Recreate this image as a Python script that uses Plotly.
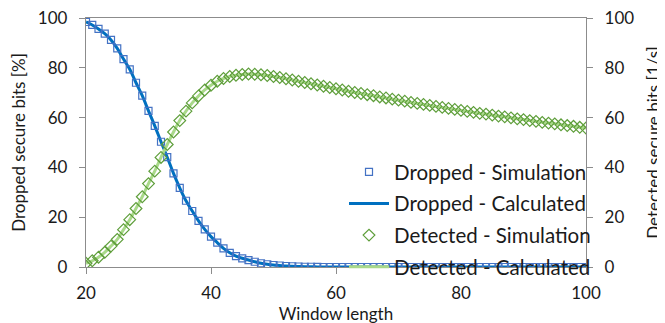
import plotly.graph_objects as go

window_length = list(range(20, 101))

dropped_pct = [
    98.4, 97.2, 95.6, 93.7, 91.2, 87.8, 83.5, 79.4, 74.0, 68.8,
    62.7, 56.7, 50.3, 44.1, 37.6, 31.8, 26.6, 22.5, 18.5, 15.1,
    12.2, 9.8, 7.5, 5.7, 4.4, 3.5, 2.8, 2.1, 1.5, 1.1,
    0.8, 0.6, 0.4, 0.3, 0.2, 0.1, 0.1, 0.05, 0.0, 0.0,
] + [0.0] * 41

detected_per_s = [
    1.5, 2.5, 3.9, 5.9, 8.4, 11.1, 15.0, 19.0, 23.5, 28.2,
    33.5, 38.5, 44.0, 49.2, 54.2, 58.8, 62.6, 65.9, 68.7, 71.1,
    73.0, 74.6, 75.7, 76.5, 77.0, 77.3, 77.5, 77.4, 77.2, 76.9,
    76.5, 76.1, 75.6, 75.1, 74.6, 74.1, 73.6, 73.1, 72.6, 72.1,
    71.6, 71.1, 70.6, 70.1, 69.7, 69.2, 68.8, 68.3, 67.9, 67.4,
    67.0, 66.6, 66.1, 65.7, 65.3, 64.9, 64.5, 64.1, 63.7, 63.3,
    62.9, 62.5, 62.1, 61.7, 61.4, 61.0, 60.6, 60.3, 59.9, 59.5,
    59.2, 58.8, 58.5, 58.1, 57.8, 57.5, 57.1, 56.8, 56.5, 56.1,
    55.8,
]

x_ticks = [20, 40, 60, 80, 100]
y_ticks = [0, 20, 40, 60, 80, 100]

FONT = "Lato"
TXT = "#1a1a1a"
AX = "#8c8c8c"

fig = go.Figure()

# draw lines beneath markers; legend order set by legendrank
fig.add_trace(go.Scatter(
    x=window_length, y=detected_per_s, mode="lines", name="Detected - Calculated",
    legendgroup="d", legendrank=4, yaxis="y2",
    line=dict(color="#A9D98A", width=3, shape="spline"),
))
fig.add_trace(go.Scatter(
    x=window_length, y=dropped_pct, mode="lines", name="Dropped - Calculated",
    legendgroup="b", legendrank=2,
    line=dict(color="#0070C0", width=3, shape="spline"),
))
fig.add_trace(go.Scatter(
    x=window_length, y=detected_per_s, mode="markers", name="Detected - Simulation",
    legendgroup="c", legendrank=3, yaxis="y2",
    marker=dict(symbol="diamond-open", size=9, color="#5E9E3A", line=dict(width=1.2)),
))
fig.add_trace(go.Scatter(
    x=window_length, y=dropped_pct, mode="markers", name="Dropped - Simulation",
    legendgroup="a", legendrank=1,
    marker=dict(symbol="square-open", size=7, color="#4472C4", line=dict(width=1.2)),
))

axis_common = dict(
    showgrid=False, zeroline=False, showline=True, linecolor=AX, linewidth=1.3,
    ticks="outside", ticklen=6, tickcolor=AX, automargin=False,
    ticklabeloverflow="allow",
    tickfont=dict(family=FONT, size=17, color=TXT),
)
TITLE_FONT = dict(family=FONT, size=17, color=TXT)

fig.update_layout(
    width=665, height=323,
    margin=dict(l=78, r=87, t=10, b=64),
    paper_bgcolor="white", plot_bgcolor="white",
    font=dict(family=FONT, color=TXT),
    showlegend=True,
    legend=dict(
        x=0.516, y=0.462, xanchor="left", yanchor="top",
        font=dict(family=FONT, size=20.5, color=TXT),
        bgcolor="rgba(0,0,0,0)", traceorder="grouped", tracegroupgap=2,
        itemwidth=40,
    ),
    xaxis=dict(
        range=[20, 100], tickvals=x_ticks, mirror=True, ticklabelstandoff=4,
        title=dict(text="Window length", font=TITLE_FONT, standoff=0),
        **axis_common,
    ),
    yaxis=dict(
        range=[0, 100], tickvals=y_ticks, ticklabelstandoff=8,
        title=dict(text="Dropped secure bits [%]", font=TITLE_FONT, standoff=18),
        **axis_common,
    ),
    yaxis2=dict(
        range=[0, 100], tickvals=y_ticks, overlaying="y", side="right", ticklabelstandoff=8,
        title=dict(text="Detected secure bits [1/s]", font=TITLE_FONT, standoff=14),
        **axis_common,
    ),
)

fig.write_html("out.html")
